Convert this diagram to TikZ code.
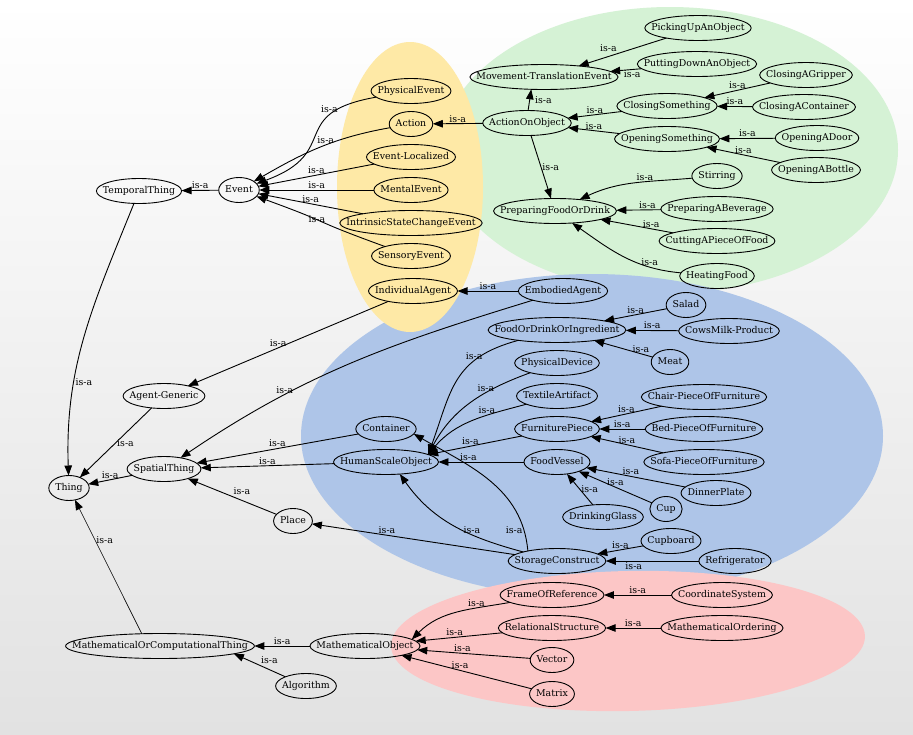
\documentclass[tikz,border=0pt]{standalone}
\usepackage{fontspec}
\setmainfont{DejaVu Serif}
\usetikzlibrary{arrows.meta}
\definecolor{grpgreen}{RGB}{213,242,213}
\definecolor{grpyellow}{RGB}{254,233,166}
\definecolor{grpblue}{RGB}{174,197,232}
\definecolor{grppink}{RGB}{252,198,198}
\definecolor{bgmid}{RGB}{232,232,232}
\definecolor{bgbot}{RGB}{226,226,226}
\makeatletter
\pgfdeclareshape{gvellipse}{%
  \savedanchor\centerpoint{%
    \pgf@x=.5\wd\pgfnodeparttextbox
    \pgf@y=.5\ht\pgfnodeparttextbox
    \advance\pgf@y by-.5\dp\pgfnodeparttextbox}%
  \savedanchor\radius{%
    \pgf@x=.5\wd\pgfnodeparttextbox
    \pgfmathsetlength\pgf@xb{\pgfkeysvalueof{/pgf/inner xsep}}%
    \advance\pgf@x by\pgf@xb
    \pgfmathsetlength\pgf@y{\pgfkeysvalueof{/pgf/minimum height}}%
    \pgf@y=.5\pgf@y}%
  \anchor{center}{\centerpoint}%
  \anchor{text}{\centerpoint
    \advance\pgf@x by-.5\wd\pgfnodeparttextbox
    \advance\pgf@y by-.5\ht\pgfnodeparttextbox
    \advance\pgf@y by.5\dp\pgfnodeparttextbox}%
  \anchorborder{%
    \edef\gv@dx{\the\pgf@x}\edef\gv@dy{\the\pgf@y}%
    \radius
    \edef\gv@rx{\the\pgf@x}\edef\gv@ry{\the\pgf@y}%
    \pgfpointborderellipse{\pgfqpoint{\gv@dx}{\gv@dy}}{\pgfqpoint{\gv@rx}{\gv@ry}}%
    \pgf@xa=\pgf@x \pgf@ya=\pgf@y
    \centerpoint
    \advance\pgf@x by\pgf@xa
    \advance\pgf@y by\pgf@ya}%
  \backgroundpath{%
    \radius
    \edef\gv@rx{\the\pgf@x}\edef\gv@ry{\the\pgf@y}%
    \pgfpathellipse{\centerpoint}{\pgfqpoint{\gv@rx}{0pt}}{\pgfqpoint{0pt}{\gv@ry}}}%
}
\makeatother

\begin{document}
\begin{tikzpicture}[x=1pt,y=1pt,>={Triangle[length=10pt,width=7.5pt]},
      font=\fontsize{9.4}{11}\selectfont,
      cls/.style={shape=gvellipse,draw,line width=.9pt,inner xsep=6.5pt,
        minimum height=25pt,text height=7pt,text depth=2pt},
      isa/.style={inner sep=1pt}]
      \useasboundingbox (0,0) rectangle (913,-734);
      \shade[top color=white,middle color=bgmid,bottom color=bgbot] (0,0) rectangle (913,-734);
      \fill[grpgreen] (670,-150) ellipse (228pt and 143pt);
      \fill[grpblue] (592,-436) ellipse (291pt and 162pt);
      \fill[grppink,rotate around={1.2:(628,-641)}] (628,-641) ellipse (237pt and 70pt);
      \fill[grpyellow] (410,-187) ellipse (73pt and 145pt);

      \node[cls] (thing)     at (69,-488)  {Thing};
      \node[cls] (temporal)  at (139,-191) {TemporalThing};
      \node[cls] (event)     at (239,-190) {Event};
      \node[cls] (physev)    at (411,-91)  {PhysicalEvent};
      \node[cls] (action)    at (411,-124) {Action};
      \node[cls] (evloc)     at (411,-157) {Event-Localized};
      \node[cls] (mental)    at (411,-190) {MentalEvent};
      \node[cls] (intrinsic) at (411,-223) {IntrinsicStateChangeEvent};
      \node[cls] (sensory)   at (411,-256) {SensoryEvent};
      \node[cls] (indiv)     at (413,-291) {IndividualAgent};
      \node[cls] (movement)  at (544,-77)  {Movement-TranslationEvent};
      \node[cls] (picking)   at (698,-28)  {PickingUpAnObject};
      \node[cls] (putting)   at (697,-64)  {PuttingDownAnObject};
      \node[cls] (aoo)       at (527,-123) {ActionOnObject};
      \node[cls] (closing)   at (667,-106) {ClosingSomething};
      \node[cls] (gripper)   at (806,-75)  {ClosingAGripper};
      \node[cls] (contain)   at (804,-107) {ClosingAContainer};
      \node[cls] (opening)   at (667,-139) {OpeningSomething};
      \node[cls] (door)      at (817,-138) {OpeningADoor};
      \node[cls] (bottle)    at (816,-170) {OpeningABottle};
      \node[cls] (prepfood)  at (555,-211) {PreparingFoodOrDrink};
      \node[cls] (stirring)  at (717,-176) {Stirring};
      \node[cls] (beverage)  at (717,-209) {PreparingABeverage};
      \node[cls] (cutting)   at (717,-241) {CuttingAPieceOfFood};
      \node[cls] (heating)   at (717,-276) {HeatingFood};
      \node[cls] (embodied)  at (563,-291) {EmbodiedAgent};
      \node[cls] (agentgen)  at (164,-396) {Agent-Generic};
      \node[cls] (spatial)   at (164,-469) {SpatialThing};
      \node[cls] (container) at (386,-429) {Container};
      \node[cls] (hso)       at (386,-462) {HumanScaleObject};
      \node[cls] (place)     at (293,-521) {Place};
      \node[cls] (salad)     at (686,-305) {Salad};
      \node[cls] (food)      at (557,-330) {FoodOrDrinkOrIngredient};
      \node[cls] (cowsmilk)  at (729,-331) {CowsMilk-Product};
      \node[cls] (meat)      at (670,-362) {Meat};
      \node[cls] (device)    at (557,-363) {PhysicalDevice};
      \node[cls] (textile)   at (557,-396) {TextileArtifact};
      \node[cls] (chair)     at (704,-397) {Chair-PieceOfFurniture};
      \node[cls] (furniture) at (557,-429) {FurniturePiece};
      \node[cls] (bed)       at (704,-429) {Bed-PieceOfFurniture};
      \node[cls] (vessel)    at (557,-462) {FoodVessel};
      \node[cls] (sofa)      at (704,-462) {Sofa-PieceOfFurniture};
      \node[cls] (plate)     at (716,-493) {DinnerPlate};
      \node[cls] (cup)       at (666,-509) {Cup};
      \node[cls] (glass)     at (603,-517) {DrinkingGlass};
      \node[cls] (cupboard)  at (671,-541) {Cupboard};
      \node[cls] (storage)   at (557,-561) {StorageConstruct};
      \node[cls] (fridge)    at (735,-561) {Refrigerator};
      \node[cls] (frame)     at (552,-595) {FrameOfReference};
      \node[cls] (coord)     at (722,-595) {CoordinateSystem};
      \node[cls] (relstruct) at (552,-628) {RelationalStructure};
      \node[cls] (ordering)  at (722,-628) {MathematicalOrdering};
      \node[cls] (mathobj)   at (365,-646) {MathematicalObject};
      \node[cls] (mathcomp)  at (160,-646) {MathematicalOrComputationalThing};
      \node[cls] (vector)    at (552,-660) {Vector};
      \node[cls] (algorithm) at (306,-686) {Algorithm};
      \node[cls] (matrix)    at (552,-694) {Matrix};

      \path[->,line width=.9pt]
        (event) edge node[isa,above] {is-a} (temporal)
        (temporal) edge[out=-112,in=92] node[isa,right,pos=.68] {is-a} (thing)
        (physev) edge[out=190,in=20,looseness=1.6] node[isa,above,pos=.27] {is-a} (event)
        (action) edge[out=190,in=30] node[isa,above,pos=.45] {is-a} (event)
        (evloc) edge node[isa,above] {is-a} (event)
        (mental) edge node[isa,above] {is-a} (event)
        (intrinsic) edge node[isa,above] {is-a} (event)
        (sensory) edge[out=160,in=-20,looseness=1.6] node[isa,above left,pos=.42] {is-a} (event)
        (aoo) edge node[isa,above] {is-a} (action)
        (aoo.85) edge node[isa,right,xshift=4pt] {is-a} (movement.224)
        (picking) edge node[isa,above left,pos=.55] {is-a} (movement)
        (putting) edge node[isa,below,pos=.3] {is-a} (movement)
        (closing) edge node[isa,above] {is-a} (aoo)
        (opening) edge node[isa,above] {is-a} (aoo)
        (gripper) edge node[isa,above] {is-a} (closing)
        (contain) edge node[isa,above] {is-a} (closing)
        (door) edge node[isa,above] {is-a} (opening)
        (bottle) edge node[isa,above] {is-a} (opening)
        (aoo) edge node[isa,right] {is-a} (prepfood)
        (stirring) edge[out=185,in=25] node[isa,above,pos=.4] {is-a} (prepfood)
        (beverage) edge node[isa,above,pos=.3] {is-a} (prepfood)
        (cutting) edge node[isa,above,pos=.3] {is-a} (prepfood)
        (heating) edge[out=175,in=-35] node[isa,above,pos=.25] {is-a} (prepfood)
        (embodied) edge node[isa,above] {is-a} (indiv)
        (indiv) edge node[isa,above,pos=.55] {is-a} (agentgen)
        (embodied) edge[out=197,in=34] node[isa,above,pos=.7] {is-a} (spatial)
        (agentgen) edge node[isa,right] {is-a} (thing)
        (spatial) edge node[isa,above] {is-a} (thing)
        (container) edge node[isa,above] {is-a} (spatial)
        (hso) edge node[isa,above] {is-a} (spatial)
        (place) edge node[isa,above right] {is-a} (spatial)
        (storage) edge node[isa,above,pos=.63] {is-a} (place)
        (storage) edge[out=165,in=-55] node[isa,above,pos=.35] {is-a} (hso.319)
        (storage.161) edge[out=95,in=-30] node[isa,left,pos=.12] {is-a} (container.350)
        (food) edge[out=195,in=70,looseness=1.2] node[isa,above,pos=.3] {is-a} (hso.10)
        (device) edge[out=200,in=62] node[isa,above,pos=.35] {is-a} (hso.10)
        (textile) edge[out=195,in=50] node[isa,above,pos=.35] {is-a} (hso.10)
        (furniture) edge node[isa,above,pos=.55] {is-a} (hso.10)
        (vessel) edge node[isa,above,pos=.65] {is-a} (hso)
        (salad) edge node[isa,above] {is-a} (food)
        (cowsmilk) edge node[isa,above] {is-a} (food)
        (meat) edge node[isa,above,pos=.2] {is-a} (food)
        (chair) edge node[isa,above] {is-a} (furniture)
        (bed) edge node[isa,above] {is-a} (furniture)
        (sofa) edge node[isa,above] {is-a} (furniture)
        (plate) edge node[isa,above,pos=.55] {is-a} (vessel)
        (cup) edge node[isa,above] {is-a} (vessel)
        (glass) edge node[isa,right] {is-a} (vessel)
        (cupboard) edge node[isa,above] {is-a} (storage)
        (fridge) edge node[isa,below,pos=.7] {is-a} (storage)
        (coord) edge node[isa,above] {is-a} (frame)
        (ordering) edge node[isa,above] {is-a} (relstruct)
        (frame) edge[out=190,in=45] node[isa,above,pos=.3] {is-a} (mathobj.8)
        (relstruct) edge node[isa,above,pos=.55] {is-a} (mathobj)
        (vector) edge node[isa,above,pos=.6] {is-a} (mathobj)
        (matrix) edge node[isa,above,pos=.55] {is-a} (mathobj)
        (mathobj) edge node[isa,above] {is-a} (mathcomp)
        (algorithm) edge node[isa,above right] {is-a} (mathcomp.354);
      \path[->,line width=.6pt]
        (mathcomp.146) edge node[isa,right,pos=.7] {is-a} (thing);
    \end{tikzpicture}
\end{document}
